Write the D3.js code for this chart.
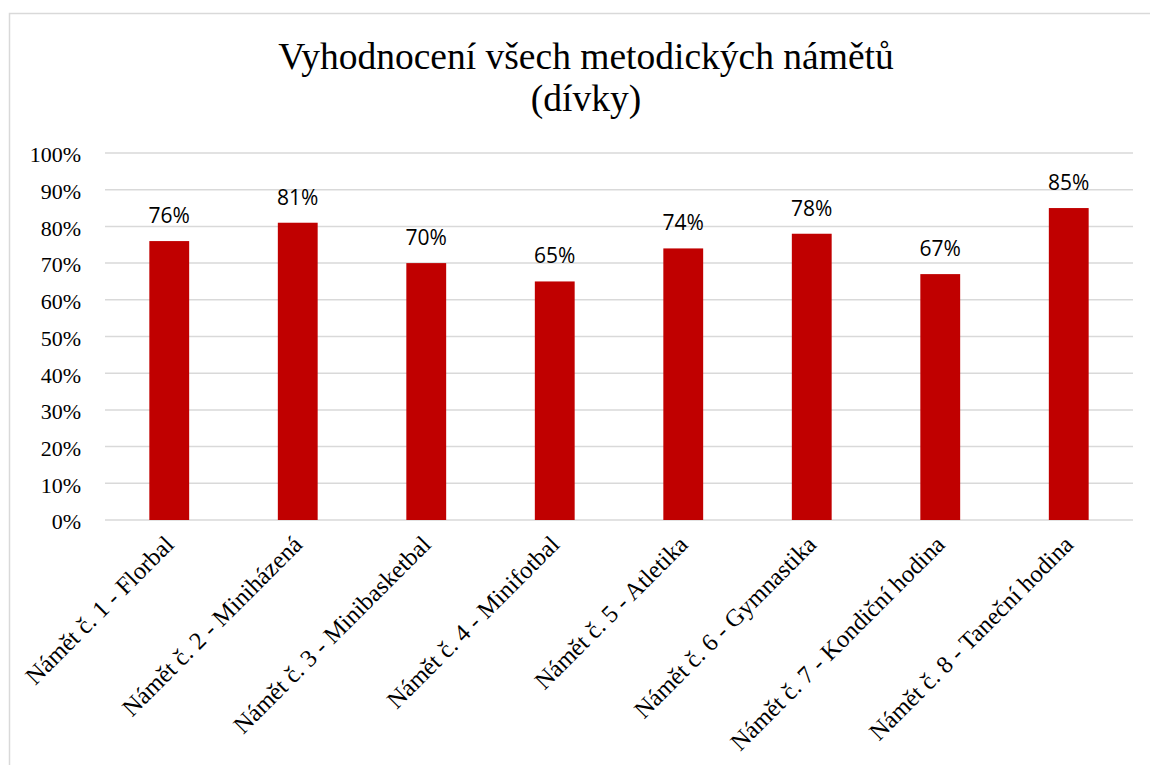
<!DOCTYPE html>
<html>
<head>
<meta charset="utf-8">
<script src="https://cdn.jsdelivr.net/npm/d3@7"></script>
<style>
  body { margin: 0; background: #fff; }
  svg { display: block; }
  .serif text, text.serif { font-family: "Liberation Serif", "Times New Roman", serif; }
</style>
</head>
<body>
<script>
// chart data
var categories = [
  "Námět č. 1 - Florbal",
  "Námět č. 2 - Miniházená",
  "Námět č. 3 - Minibasketbal",
  "Námět č. 4 - Minifotbal",
  "Námět č. 5 - Atletika",
  "Námět č. 6 - Gymnastika",
  "Námět č. 7 - Kondiční hodina",
  "Námět č. 8 - Taneční hodina"
];
var values = [0.76, 0.81, 0.70, 0.65, 0.74, 0.78, 0.67, 0.85];
var yTicks = [0, 0.1, 0.2, 0.3, 0.4, 0.5, 0.6, 0.7, 0.8, 0.9, 1.0];
var titleLines = ["Vyhodnocení všech metodických námětů", "(dívky)"];

var width = 1150, height = 765;
var margin = ({ top: 153, right: 17, bottom: 245, left: 105 });
var serif = "Liberation Serif, Times New Roman, serif";

var svg = d3.select("body").append("svg")
  .attr("width", width).attr("height", height);

// outer chart frame
svg.append("rect")
  .attr("x", 9.5).attr("y", 13.5)
  .attr("width", 1160).attr("height", 800)
  .attr("fill", "#fff")
  .attr("stroke", "#d9d9d9").attr("stroke-width", 1.5);

var xScale = d3.scaleBand()
  .domain(categories)
  .range([margin.left, width - margin.right])
  .paddingInner(0.69).paddingOuter(0.345);

var yScale = d3.scaleLinear()
  .domain([0, 1])
  .range([height - margin.bottom, margin.top]);

// gridlines
svg.append("g")
  .selectAll("line")
  .data(yTicks)
  .enter().append("line")
  .attr("x1", margin.left).attr("x2", width - margin.right)
  .attr("y1", d => yScale(d)).attr("y2", d => yScale(d))
  .attr("stroke", "#d9d9d9").attr("stroke-width", 1.5);

// y axis labels
var yAxis = d3.axisLeft(yScale)
  .tickValues(yTicks)
  .tickFormat(d3.format(".0%"))
  .tickSize(0).tickPadding(0);

var gy = svg.append("g")
  .attr("class", "serif")
  .attr("transform", "translate(81,0)")
  .call(yAxis);
gy.select(".domain").remove();
gy.attr("font-family", serif).attr("font-size", 22);
gy.selectAll("text")
  .attr("dy", "0.4em")
  .attr("fill", "#000");

// bars
svg.append("g")
  .selectAll("rect")
  .data(values)
  .enter().append("rect")
  .attr("x", (d, i) => xScale(categories[i]))
  .attr("width", xScale.bandwidth())
  .attr("y", d => yScale(d))
  .attr("height", d => yScale(0) - yScale(d))
  .attr("fill", "#c00000");

// data labels
svg.append("g")
  .selectAll("text")
  .data(values)
  .enter().append("text")
  .attr("x", (d, i) => xScale(categories[i]) + xScale.bandwidth() / 2)
  .attr("y", d => yScale(d) - 18)
  .attr("text-anchor", "middle")
  .attr("font-family", "Open Sans, sans-serif")
  .attr("font-size", 21)
  .attr("fill", "#000")
  .text(d => Math.round(d * 100) + "%");

// x axis
var xAxis = d3.axisBottom(xScale).tickSize(0).tickPadding(0);

var gx = svg.append("g")
  .attr("class", "serif")
  .attr("transform", "translate(0," + yScale(0) + ")")
  .call(xAxis);
gx.select(".domain").remove();
gx.attr("font-family", serif).attr("font-size", 24.5);
gx.selectAll("text")
  .attr("text-anchor", "end")
  .attr("dy", null)
  .attr("y", 0)
  .attr("transform", "translate(6,26) rotate(-45)")
  .attr("fill", "#000");

// title
svg.append("text")
  .attr("class", "serif")
  .attr("text-anchor", "middle")
  .attr("font-family", serif)
  .attr("font-size", 37.5)
  .attr("fill", "#000")
  .selectAll("tspan")
  .data(titleLines)
  .enter().append("tspan")
  .attr("x", 586)
  .attr("y", (d, i) => 69 + i * 42)
  .text(d => d);
</script>
</body>
</html>
